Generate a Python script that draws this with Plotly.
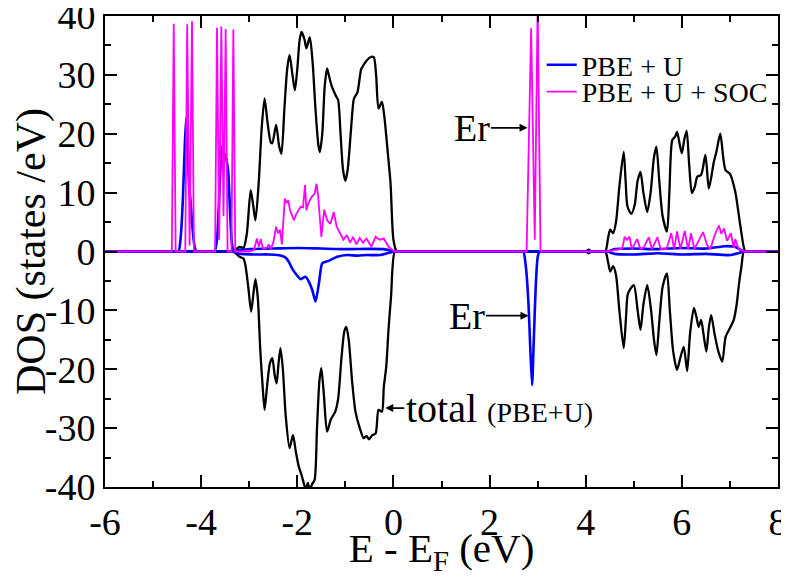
import plotly.graph_objects as go

# total DOS (PBE+U), spin up
total_up_e = [-6, -3.45, -3.35, -3.28, -3.2, -3.12, -3.05, -2.97, -2.92, -2.87, -2.8, -2.74, -2.68, -2.62, -2.55,
              -2.52, -2.44, -2.38, -2.33, -2.27, -2.21, -2.16, -2.1, -2.05, -2.0, -1.95, -1.91, -1.85, -1.81,
              -1.74, -1.68, -1.62, -1.56, -1.53, -1.48, -1.43, -1.38, -1.33, -1.28, -1.2, -1.15, -1.1, -1.05,
              -1.0, -0.95, -0.88, -0.82, -0.75, -0.67, -0.62, -0.55, -0.48, -0.41, -0.36, -0.31, -0.24, -0.19,
              -0.12, -0.06, 0.0, 0.07, 0.15, 2.0, 3.9, 4.0, 4.06, 4.12, 4.2, 4.35, 4.41, 4.47, 4.51, 4.57,
              4.63, 4.7, 4.79, 4.83, 4.87, 4.95, 5.02, 5.08, 5.14, 5.2, 5.28, 5.35, 5.42, 5.47, 5.53, 5.6, 5.69,
              5.74, 5.8, 5.86, 5.9, 5.96, 6.0, 6.05, 6.1, 6.15, 6.21, 6.27, 6.32, 6.4, 6.49, 6.56, 6.62, 6.66,
              6.72, 6.8, 6.86, 6.91, 7.0, 7.11, 7.22, 7.32, 7.4, 8]
total_up = [0, 0, 0, 0.3, 0.8, 0.6, 3.0, 10.4, 8, 5.3, 12, 21, 26.0, 22, 18.5,
            18.4, 21.5, 18, 16.6, 24, 31, 33.4, 30, 27.4, 31, 36, 37.3, 36, 34.5,
            36.4, 32, 24, 18, 16.9, 20, 28, 31.1, 29.5, 28.0, 26.5, 25.7, 20, 14,
            12.0, 14, 21, 26, 27, 31, 31.7, 32.5, 33.0, 33.0, 30, 24.3, 25.4, 23,
            17, 11.6, 2.0, 0, 0, 0, 0, 0, 0.3, 0, 0, 0, 0, 2.5, 3.7, 3.1,
            5, 11, 16.9, 12, 7.6, 6.4, 8, 12, 13.5, 10, 6.7, 10, 16, 17.8, 12, 6, 3.4,
            10, 18.9, 19.5, 20.3, 18, 16.7, 19, 20.5, 15, 9.9, 11, 12.7, 13, 16.4, 10.7, 13, 15.0,
            17, 20.0, 16, 13.8, 13.2, 10.2, 4.2, 0, 0, 0]

# total DOS (PBE+U), spin down
total_dn_e = [-6, -3.45, -3.35, -3.28, -3.2, -3.12, -3.08, -3.02, -2.96, -2.91, -2.87, -2.82, -2.77, -2.72,
              -2.68, -2.63, -2.57, -2.52, -2.47, -2.43, -2.39, -2.35, -2.3, -2.24, -2.16, -2.09, -2.03, -1.97,
              -1.91, -1.86, -1.82, -1.78, -1.74, -1.69, -1.64, -1.59, -1.54, -1.5, -1.45, -1.38, -1.3, -1.21,
              -1.15, -1.08, -1.02, -0.98, -0.93, -0.86, -0.79, -0.7, -0.62, -0.56, -0.51, -0.44, -0.37, -0.31,
              -0.24, -0.2, -0.15, -0.1, -0.05, 0.03, 0.12, 2.0, 3.9, 4.0, 4.06, 4.12, 4.2, 4.35, 4.41, 4.47,
              4.51, 4.57, 4.63, 4.7, 4.79, 4.84, 4.88, 5.0, 5.08, 5.14, 5.2, 5.28, 5.36, 5.42, 5.47, 5.53, 5.6,
              5.69, 5.75, 5.82, 5.9, 5.97, 6.04, 6.11, 6.17, 6.25, 6.3, 6.35, 6.4, 6.45, 6.51, 6.56, 6.61, 6.68,
              6.76, 6.84, 6.91, 7.0, 7.08, 7.14, 7.19, 7.24, 7.29, 7.37, 8]
total_dn = [0, 0, 0, -0.3, -0.9, -1.2, -2.3, -6, -10.2, -7, -4.7, -8, -16.7, -23,
            -26.9, -23, -19, -18.1, -21, -22.4, -19, -16.4, -20, -28, -33.4, -31.2, -34, -36.5,
            -38, -39.5, -40.5, -39.3, -40.5, -39.5, -38.8, -30, -22, -19.8, -24, -30.6, -28.5, -27.2,
            -25, -18, -13.5, -12.8, -15, -22, -27.2, -30, -31.7, -31.3, -31.9, -31.2, -30.9, -26.9,
            -27.2, -23, -19.6, -13, -7.7, 0, 0, 0, 0, 0, -0.3, 0, 0, 0, 0, -2.0,
            -3.4, -2.5, -4, -10, -16.4, -11, -7.1, -5.7, -10, -13.3, -9, -5.7, -10, -15, -17.6, -12, -6,
            -3.7, -10, -17, -20.1, -18, -16.2, -20.3, -14, -9.6, -11, -12.8, -11.6, -14, -17.0, -13, -10.8, -14,
            -17, -18.7, -14.5, -13, -11.6, -9, -5.4, -2.5, 0, 0, 0]

# Er, PBE+U, spin up
er_u_up_e = [-6, -4.55, -4.47, -4.42, -4.38, -4.34, -4.31, -4.28, -4.25, -4.22, -4.18, -4.14, -4.1, -4.0,
             -3.8, -3.72, -3.67, -3.63, -3.6, -3.58, -3.54, -3.49, -3.44, -3.4, -3.36, -3.32, -3.2, -3.0,
             -2.5, -2.0, -1.5, -1.0, -0.5, -0.2, 0.03, 0.12, 2.0, 3.9, 4.0, 4.06, 4.12, 4.2, 4.45, 4.6, 5.0,
             5.5, 6.0, 6.5, 6.9, 7.1, 7.3, 7.4, 8]
er_u_up = [0, 0, 0, 3, 9, 18, 22.8, 18, 11, 8.5, 4, 1, 0, 0,
           0, 0, 2, 8.2, 14, 17.8, 17, 16.1, 13.8, 7, 1.4, 0, 0.3, 0.4,
           0.5, 0.6, 0.5, 0.4, 0.45, 0.4, 0, 0, 0, 0, 0, 0.2, 0, 0, 0, 0.4, 0.5,
           0.4, 0.6, 0.5, 0.9, 0.8, 0, 0, 0]

# Er, PBE+U, spin down
er_u_dn_e = [-6, -3.4, -3.3, -3.2, -2.9, -2.6, -2.4, -2.25, -2.18, -2.1, -2.04, -1.93, -1.83, -1.76, -1.69,
             -1.62, -1.55, -1.48, -1.35, -1.17, -0.96, -0.75, -0.55, -0.27, 0.01, 0.1, 2.0, 2.6, 2.7, 2.76,
             2.81, 2.85, 2.885, 2.92, 2.96, 3.0, 3.04, 3.15, 4.0, 4.45, 4.6, 5.0, 5.5, 6.0, 6.5, 7.0, 7.3,
             7.4, 8]
er_u_dn = [0, 0, 0, -0.4, -0.5, -0.5, -0.6, -1.0, -1.7, -3.0, -3.7, -4.7, -4.3, -5.1, -6.5,
           -8.5, -5.4, -2.0, -1.6, -0.9, -0.6, -0.7, -0.6, -0.6, 0, 0, 0, 0, 0, -3,
           -9, -17, -22.7, -15, -6, -1, 0, 0, 0, 0, -0.4, -0.5, -0.3, -0.5, -0.4, -0.6, 0,
           0, 0]

# Er, PBE+U+SOC
er_soc_e = [-6, -4.61, -4.57, -4.53, -4.33, -4.29, -4.24, -4.19, -4.15, -3.71, -3.67, -3.625, -3.58, -3.535,
            -3.49, -3.45, -3.37, -3.33, -3.29, -3.0, -2.9, -2.84, -2.8, -2.76, -2.71, -2.64, -2.59, -2.55,
            -2.5, -2.44, -2.4, -2.36, -2.32, -2.26, -2.22, -2.19, -2.15, -2.07, -2.02, -1.97, -1.93, -1.88,
            -1.84, -1.81, -1.77, -1.7, -1.64, -1.6, -1.57, -1.5, -1.44, -1.38, -1.31, -1.24, -1.18, -1.11,
            -1.04, -0.97, -0.9, -0.84, -0.77, -0.7, -0.63, -0.56, -0.46, -0.37, -0.29, -0.2, -0.1, 0.02,
            2.77, 2.865, 2.94, 3.0, 3.06, 4.45, 4.7, 4.76, 4.81, 4.86, 4.91, 4.96, 5.07, 5.14, 5.21, 5.31,
            5.38, 5.49, 5.56, 5.68, 5.78, 5.84, 5.9, 5.97, 6.06, 6.13, 6.19, 6.26, 6.44, 6.52, 6.59, 6.69,
            6.77, 6.82, 6.88, 6.94, 7.02, 7.08, 7.11, 7.18, 7.3, 8]
er_soc = [0, 0, 38.7, 0, 0, 38.6, 1, 39.1, 0, 0, 38.0, 2, 38.2, 6,
          37.8, 0, 0, 37.7, 0, 0, 0.3, 2.2, 0.8, 2.1, 0.4, 0.6, 1.2, 0.4,
          1.5, 4.2, 3.1, 3.7, 1.2, 9.0, 8.2, 8.7, 7.0, 5.3, 6.4, 7.0, 7.6, 7.5,
          11.3, 7.0, 8.2, 9.3, 9.8, 11.5, 9.8, 2.5, 7.1, 5.3, 4.7, 6.7, 4.2, 3.1,
          2.0, 2.8, 1.5, 2.5, 1.2, 2.3, 1.5, 2.2, 0.8, 2.5, 2.0, 2.2, 0.8, 0,
          0, 37.9, 2, 42, 0, 0, 0.4, 0.5, 2.5, 2.0, 2.5, 0.4, 2.1, 0.4, 0.7, 2.4,
          0.4, 2.4, 0.4, 0.4, 3.1, 0.4, 3.4, 0.4, 3.5, 0.4, 3.1, 0.4, 3.3, 1.2, 0.4, 2.9,
          4.4, 3.0, 3.9, 1.8, 3.1, 0.6, 2.1, 0.4, 0, 0]

x_ticks = [-6, -4, -2, 0, 2, 4, 6, 8]
x_ticklabels = ["-6", "-4", "-2", "0", "2", "4", "6", "8"]
y_ticks = [-40, -30, -20, -10, 0, 10, 20, 30, 40]
y_ticklabels = ["-40", "-30", "-20", "-10", "0", "10", "20", "30", "40"]

serif = "Liberation Serif"

fig = go.Figure()
fig.add_trace(go.Scatter(x=total_up_e, y=total_up, mode="lines", name="total",
                         line=dict(color="black", width=2.3, shape="spline", smoothing=0.7),
                         showlegend=False))
fig.add_trace(go.Scatter(x=total_dn_e, y=total_dn, mode="lines", name="total",
                         line=dict(color="black", width=2.3, shape="spline", smoothing=0.7),
                         showlegend=False))
fig.add_trace(go.Scatter(x=er_u_up_e, y=er_u_up, mode="lines", name="PBE + U", legendgroup="u",
                         line=dict(color="#0000ff", width=2.6, shape="spline", smoothing=0.6)))
fig.add_trace(go.Scatter(x=er_u_dn_e, y=er_u_dn, mode="lines", name="PBE + U", legendgroup="u",
                         line=dict(color="#0000ff", width=2.6, shape="spline", smoothing=0.6),
                         showlegend=False))
fig.add_trace(go.Scatter(x=er_soc_e, y=er_soc, mode="lines", name="PBE + U + SOC", legend="legend2",
                         line=dict(color="#ff00ff", width=1.8)))

fig.add_annotation(x=2.79, y=21.0, text="Er", showarrow=True, ax=-56, ay=0,
                   arrowhead=2, arrowsize=1, arrowwidth=1.6, arrowcolor="black",
                   font=dict(family=serif, size=38, color="black"))
fig.add_annotation(x=2.81, y=-10.9, text="Er", showarrow=True, ax=-62, ay=0,
                   arrowhead=2, arrowsize=1, arrowwidth=1.6, arrowcolor="black",
                   font=dict(family=serif, size=38, color="black"))
fig.add_annotation(x=-0.17, y=-26.6, text="total <span style='font-size:28px'>(PBE+U)</span>",
                   showarrow=True, ax=114, ay=0,
                   arrowhead=2, arrowsize=1, arrowwidth=1.6, arrowcolor="black",
                   font=dict(family=serif, size=40, color="black"))

axis_common = dict(showline=True, linewidth=2, linecolor="black", mirror="ticks",
                   ticks="inside", ticklen=12, tickwidth=2, tickcolor="black",
                   showgrid=False, zeroline=False, automargin=False, ticklabeloverflow="allow",
                   tickfont=dict(family=serif, size=38, color="black"))

legend_common = dict(xanchor="left", yanchor="middle", bgcolor="rgba(0,0,0,0)", borderwidth=0,
                     font=dict(family=serif, size=28, color="black"), itemwidth=30)

# the page body adds an 8px offset, so the figure is drawn 8px smaller
fig.update_layout(
    width=781, height=569,
    margin=dict(l=97, r=11, t=8, b=90),
    font=dict(family=serif, color="black"),
    paper_bgcolor="white", plot_bgcolor="white",
    xaxis=dict(range=[-6, 8], tickvals=x_ticks, ticktext=x_ticklabels,
               minor=dict(dtick=1, tick0=0, ticks="inside", ticklen=6, tickwidth=2, tickcolor="black"),
               title=dict(text="E - E<sub>F</sub> (eV)", standoff=6,
                          font=dict(family=serif, size=41, color="black")),
               **axis_common),
    yaxis=dict(range=[-40, 40], tickvals=y_ticks, ticktext=y_ticklabels,
               minor=dict(dtick=5, tick0=0, ticks="inside", ticklen=6, tickwidth=2, tickcolor="black"),
               title=dict(text="DOS (states /eV)", standoff=4,
                          font=dict(family=serif, size=42, color="black")),
               **axis_common),
    legend=dict(x=0.649, y=0.896, **legend_common),
    legend2=dict(x=0.649, y=0.839, **legend_common),
    showlegend=True,
)

# redraw once the serif font is ready, so no text keeps the fallback face
redraw = """
var gd = document.getElementById('{plot_id}');
document.fonts.load('38px "Liberation Serif"').then(function () {
    setTimeout(function () { Plotly.newPlot(gd, gd.data, gd.layout); }, 30);
});
"""
fig.write_html("out.html", post_script=redraw)
